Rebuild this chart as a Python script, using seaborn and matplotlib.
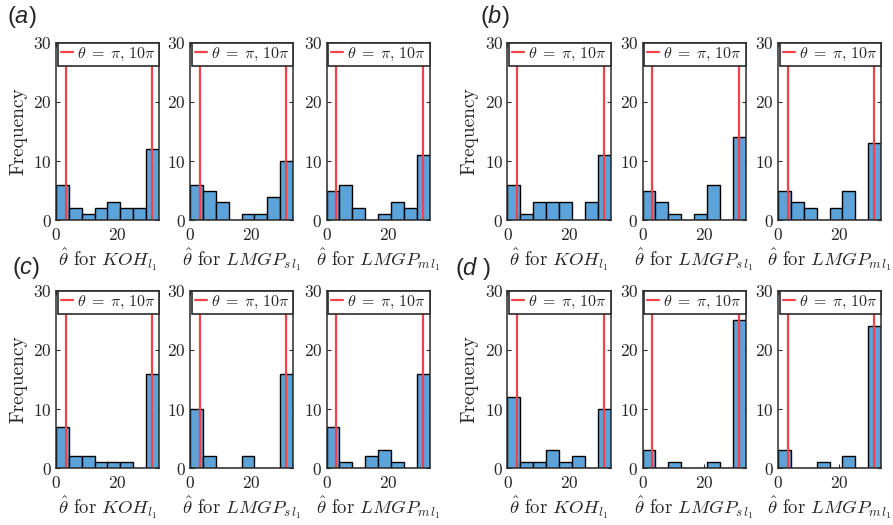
import numpy as np
import pandas as pd
import matplotlib
matplotlib.use("Agg")
import matplotlib.pyplot as plt
import seaborn as sns

# Histogram counts of the estimated theta over 8 equal bins on [0, 33.6]
bin_edges = [0.0, 4.2, 8.4, 12.6, 16.8, 21.0, 25.2, 29.4, 33.6]
panels = ["(a)", "(b)", "(c)", "(d )"]
estimators = [r"$KOH_{l_1}$", r"$LMGP_{s\,l_1}$", r"$LMGP_{m\,l_1}$"]

a_koh = [6, 2, 1, 2, 3, 2, 2, 12]
a_lmgp_s = [6, 5, 3, 0, 1, 1, 4, 10]
a_lmgp_m = [5, 6, 2, 0, 1, 3, 2, 11]
b_koh = [6, 1, 3, 3, 3, 0, 3, 11]
b_lmgp_s = [5, 3, 1, 0, 1, 6, 0, 14]
b_lmgp_m = [5, 3, 2, 0, 2, 5, 0, 13]
c_koh = [7, 2, 2, 1, 1, 1, 0, 16]
c_lmgp_s = [10, 2, 0, 0, 2, 0, 0, 16]
c_lmgp_m = [7, 1, 0, 2, 3, 1, 0, 16]
d_koh = [12, 1, 1, 3, 1, 2, 0, 10]
d_lmgp_s = [3, 0, 1, 0, 0, 1, 0, 25]
d_lmgp_m = [3, 0, 0, 1, 0, 2, 0, 24]

true_theta = [np.pi, 10 * np.pi]
x_ticks = [0, 20]
y_ticks = [0, 10, 20, 30]

counts = {
    "(a)": [a_koh, a_lmgp_s, a_lmgp_m],
    "(b)": [b_koh, b_lmgp_s, b_lmgp_m],
    "(c)": [c_koh, c_lmgp_s, c_lmgp_m],
    "(d )": [d_koh, d_lmgp_s, d_lmgp_m],
}

sns.set_style("ticks")
plt.rcParams.update({
    "font.family": ["cmr10", "DejaVu Serif"],
    "mathtext.fontset": "cm",
    "axes.formatter.use_mathtext": True,
    "axes.unicode_minus": False,
})

W, H = 893, 525
fig = plt.figure(figsize=(W / 100, H / 100), dpi=100)

bar_color = "#5BA3D8"
line_color = "#F2424A"
frame_color = "#2b2b2b"

col_left = [56, 190, 326.5, 507.5, 642.5, 778]
row_top = [42.7, 290.7]
ax_w, ax_h = 103, 177.5

edges = np.asarray(bin_edges)
centers = (edges[:-1] + edges[1:]) / 2

for p_idx, panel in enumerate(panels):
    row = p_idx // 2
    grp = p_idx % 2
    for e_idx, est in enumerate(estimators):
        left = col_left[grp * 3 + e_idx]
        top = row_top[row]
        ax = fig.add_axes([left / W, 1 - (top + ax_h) / H, ax_w / W, ax_h / H])
        df = pd.DataFrame({"theta": centers, "count": counts[panel][e_idx]})
        sns.histplot(data=df, x="theta", weights="count", bins=bin_edges, ax=ax,
                     color=bar_color, alpha=1, edgecolor="black", linewidth=1.0,
                     zorder=2)
        ax.axvline(true_theta[0], color=line_color, lw=1.6, zorder=3,
                   label=r"$\theta\;=\;\pi,\,10\pi$")
        ax.axvline(true_theta[1], color=line_color, lw=1.6, zorder=3)
        ax.set_xlim(bin_edges[0], bin_edges[-1])
        ax.set_ylim(0, 30)
        ax.set_xticks(x_ticks)
        ax.set_yticks(y_ticks)
        ax.tick_params(direction="in", top=True, right=True, length=3,
                       width=0.8, color=frame_color, labelsize=12.5)
        ax.tick_params(axis="x", pad=5)
        ax.tick_params(axis="y", pad=3)
        for s in ax.spines.values():
            s.set_color(frame_color)
            s.set_linewidth(1.1)
            s.set_zorder(5)
        ax.set_xlabel(r"$\hat{\theta}$ for " + est, fontsize=13.5, labelpad=2)
        if e_idx == 0:
            ax.set_ylabel("Frequency", fontsize=14)
            ax.yaxis.set_label_coords(-0.28, 0.5)
        else:
            ax.set_ylabel("")
        leg = ax.legend(loc="upper right", borderaxespad=0, handlelength=0.75,
                        handletextpad=0.25, borderpad=0.2, fancybox=False,
                        edgecolor=frame_color, framealpha=1, fontsize=11.5)
        leg.get_frame().set_linewidth(1.2)
        leg.set_zorder(6)

# Panel letters
plt.rcParams["mathtext.it"] = "Liberation Sans:italic"
plt.rcParams["mathtext.rm"] = "Liberation Sans"
letter_pos = {"(a)": (7, 17), "(b)": (480, 16), "(c)": (12, 268), "(d )": (455, 268)}
for panel in panels:
    x, y = letter_pos[panel]
    letter = panel.strip("() ")
    trail = " )" if panel.endswith(" )") else ")"
    fig.text(x / W, 1 - y / H, "($" + letter + "$" + trail, fontsize=17,
             family="Liberation Sans", math_fontfamily="custom",
             ha="left", va="center")

fig.savefig("out.png", dpi=100)
